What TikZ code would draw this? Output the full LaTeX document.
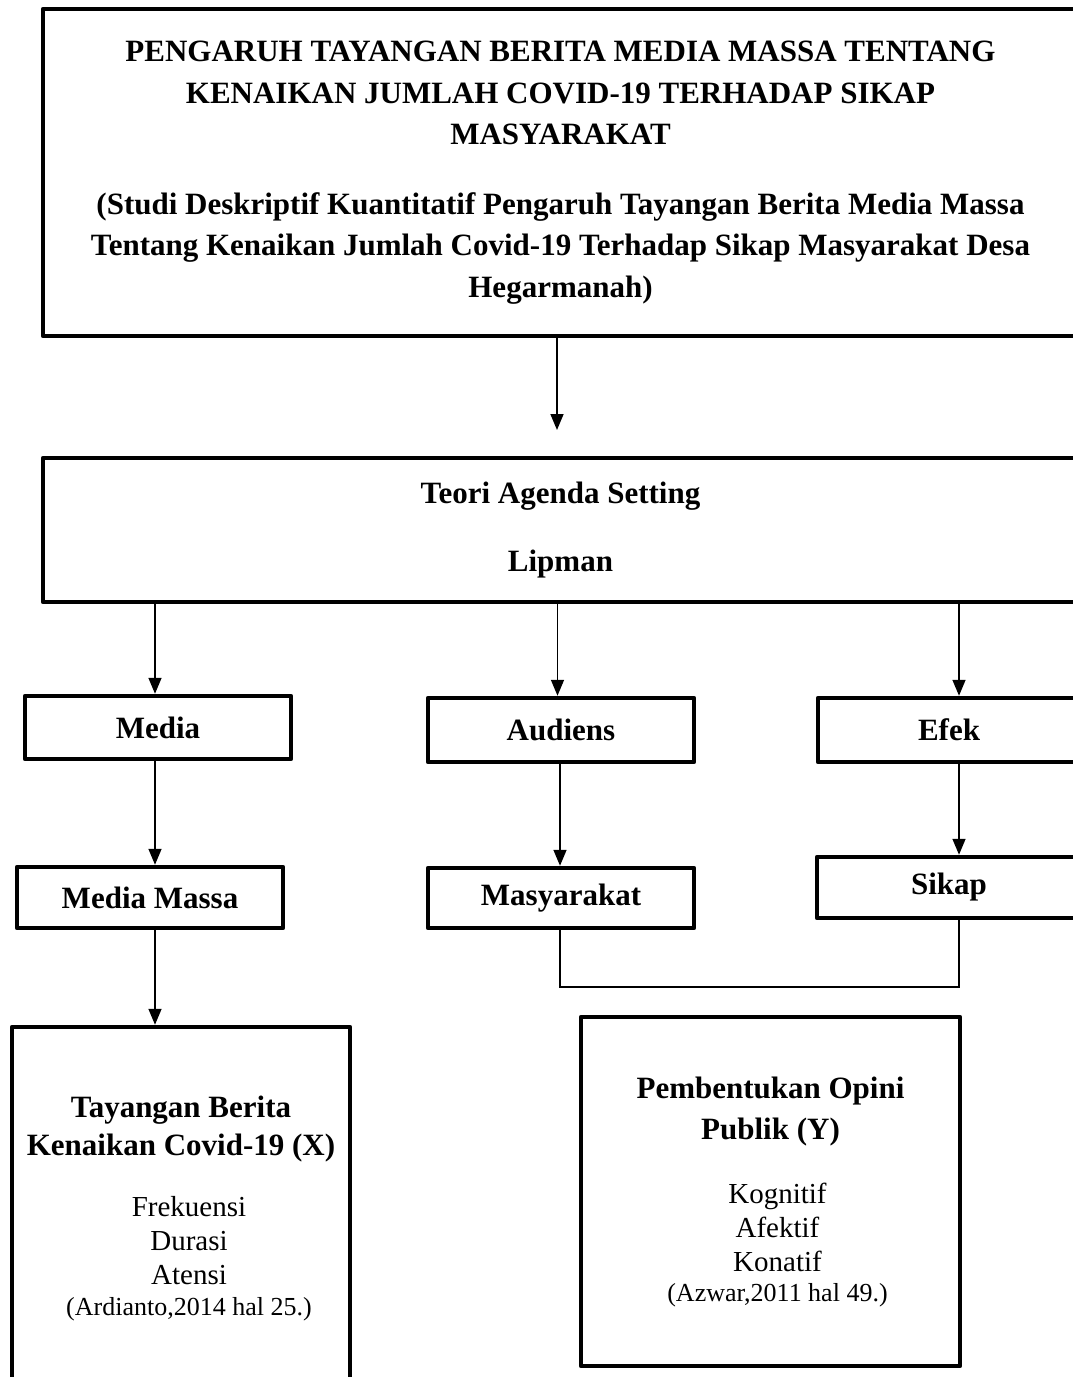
\documentclass[tikz,border=0pt]{standalone}
\usepackage{fontspec}
\setmainfont{Liberation Serif}
\usetikzlibrary{arrows.meta}
\begin{document}
\begin{tikzpicture}[x=1pt,y=-1pt,
  box/.style={draw,line width=4.5pt,line join=round,rectangle,inner sep=0pt,align=flush center,font=\fontsize{31}{38}\selectfont\bfseries},
  arr/.style={line width=1.6pt,-{Triangle[width=13pt,length=16pt]}},
  link/.style={line width=1.3pt}]
\useasboundingbox (0,0) rectangle (1073,1377);
\clip (0,0) rectangle (1073,1377);
% title box
\node[box,minimum width=1035pt,minimum height=327pt,text width=1000pt] (title) at (560.5,172.5)
 {\fontsize{31}{41.5}\selectfont PENGARUH TAYANGAN BERITA MEDIA MASSA TENTANG\\ KENAIKAN JUMLAH COVID-19 TERHADAP SIKAP\\ MASYARAKAT\\[28pt] (Studi Deskriptif Kuantitatif Pengaruh Tayangan Berita Media Massa\\ Tentang Kenaikan Jumlah Covid-19 Terhadap Sikap Masyarakat Desa\\ Hegarmanah)\par\vspace*{5pt}};
\coordinate (a1) at (557,430);
% theory box
\node[box,minimum width=1035pt,minimum height=144pt,text width=1000pt] (teori) at (560.5,530)
 {\fontsize{31}{68}\selectfont Teori Agenda Setting\\ Lipman\par};
% level 1
\node[box,minimum width=266pt,minimum height=63pt] (media) at (158,727.5) {Media};
\node[box,minimum width=266pt,minimum height=64pt] (aud) at (561,730) {Audiens};
\node[box,minimum width=262pt,minimum height=64pt] (efek) at (949,730) {Efek};
% level 2
\node[box,minimum width=266pt,minimum height=61pt] (mm) at (150,897.5) {Media Massa};
\node[box,minimum width=266pt,minimum height=60pt] (masy) at (561,898) {Masyarakat};
\node[box,minimum width=264pt,minimum height=61pt] (sikap) at (949,887.5) {Sikap};
% bottom boxes
\node[box,minimum width=338pt,minimum height=363pt,text width=330pt] (x) at (181,1208.5)
 {{\fontsize{31}{38}\selectfont\bfseries Tayangan Berita\\ Kenaikan Covid-19 (X)\par}
  \vspace{27pt}
  {\fontsize{29}{34}\selectfont\mdseries \hspace*{16pt}Frekuensi\\ \hspace*{16pt}Durasi\\ \hspace*{16pt}Atensi\par}
  {\fontsize{26}{31}\selectfont\mdseries \hspace*{16pt}(Ardianto,2014 hal 25.)\par}};
\node[box,minimum width=379pt,minimum height=349pt,text width=370pt] (y) at (770.5,1191.5)
 {{\fontsize{31}{41}\selectfont\bfseries Pembentukan Opini\\ Publik (Y)\par}
  \vspace{30pt}
  {\fontsize{29}{34}\selectfont\mdseries \hspace*{14pt}Kognitif\\ \hspace*{14pt}Afektif\\ \hspace*{14pt}Konatif\par}
  {\fontsize{26}{30}\selectfont\mdseries \hspace*{14pt}(Azwar,2011 hal 49.)\par}\vspace*{-6pt}};
% connectors
\draw[arr] (title.south -| a1) -- (a1);
\draw[arr] ([xshift=-3pt]teori.south -| media.north) -- ([xshift=-3pt]media.north);
\draw[arr] ([xshift=-3.5pt]teori.south -| aud.north) -- ([xshift=-3.5pt]aud.north);
\draw[arr] ([xshift=10pt]teori.south -| efek.north) -- ([xshift=10pt]efek.north);
\draw[arr] ([xshift=-3pt]media.south) -- ([xshift=-3pt]media.south |- mm.north);
\draw[arr] ([xshift=-1pt]aud.south) -- ([xshift=-1pt]masy.north);
\draw[arr] ([xshift=10pt]efek.south) -- ([xshift=10pt]sikap.north);
\draw[arr] ([xshift=5pt]mm.south) -- ([xshift=5pt]mm.south |- x.north);
\draw[link] ([xshift=-1pt]masy.south) |- (765,987) -| ([xshift=10pt]sikap.south);
\end{tikzpicture}
\end{document}
